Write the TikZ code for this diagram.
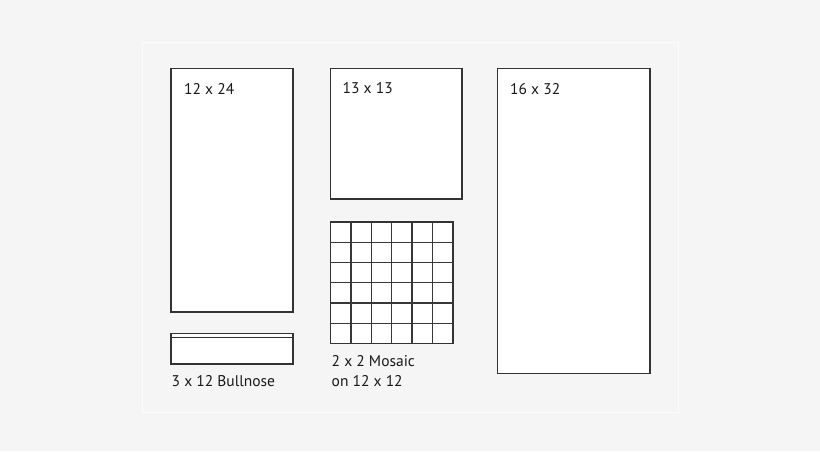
\documentclass[tikz,border=0pt]{standalone}
\usepackage{fontspec}
\setmainfont{PT Sans}
\begin{document}
\begin{tikzpicture}[x=1pt,y=-1pt,
  tile/.style={draw=black!80,line width=1.4pt,fill=white},
  grid line/.style={draw=black!78,line width=1.4pt},
  lbl/.style={anchor=base west,inner sep=0pt,font=\fontsize{15.5}{18}\selectfont,text=black!90}]
\fill[black!4] (0,0) rectangle (820,451);
\useasboundingbox (0,0) rectangle (820,451);
\draw[white!75!black!4,line width=0.8pt] (142,42) rectangle (678,412);
% 12 x 24
\draw[tile] (171,68.5) rectangle (293,312);
\node[lbl] (t1224) at (184,94) {12 x 24};
% bullnose
\draw[tile] (171,333.5) rectangle (293,364);
\draw[draw=black!80,line width=1pt] (171,337) -- (293,337);
\node[lbl] (tbull) at (171.5,386) {3 x 12 Bullnose};
% 13 x 13
\draw[tile] (330.5,68.5) rectangle (462,199);
\node[lbl] (t1313) at (342.5,93) {13 x 13};
% mosaic
\draw[tile] (330.5,222) rectangle (453,343.5);
\foreach \i in {1,...,5}{
  \draw[grid line] ({330.5+\i*122.5/6},222) -- ({330.5+\i*122.5/6},343.5);
  \draw[grid line] (330.5,{222+\i*121.5/6}) -- (453,{222+\i*121.5/6});
}
\node[lbl] (tmos1) at (331.5,366.5) {2 x 2 Mosaic};
\node[lbl] (tmos2) at (331.5,386) {on 12 x 12};
% 16 x 32
\draw[tile] (497.5,68.5) rectangle (650,373.5);
\node[lbl] (t1632) at (510,94) {16 x 32};
\end{tikzpicture}
\end{document}
